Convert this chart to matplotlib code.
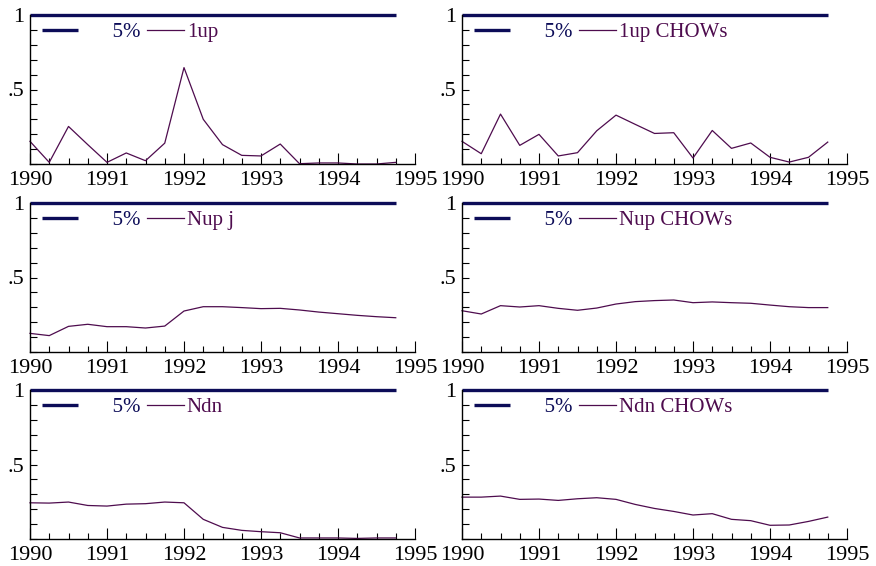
import matplotlib
matplotlib.use("Agg")
import matplotlib.pyplot as plt
import numpy as np
from matplotlib.ticker import MultipleLocator, FixedLocator

plt.rcParams["font.family"] = ["Liberation Serif", "DejaVu Serif"]

# quarterly dates 1990Q1 .. 1994Q4
dates = [1990 + q / 4 for q in range(20)]
crit_5pct = [1.0] * 20

up1 = [0.152, 0.011, 0.252, 0.130, 0.011, 0.074, 0.022, 0.140, 0.647, 0.300,
       0.130, 0.058, 0.054, 0.134, 0.002, 0.007, 0.007, 0.000, 0.000, 0.011]
up1_chow = [0.152, 0.069, 0.335, 0.125, 0.199, 0.054, 0.076, 0.223, 0.328, 0.266,
            0.205, 0.210, 0.040, 0.225, 0.105, 0.141, 0.045, 0.013, 0.045, 0.147]
nup = [0.125, 0.110, 0.172, 0.186, 0.170, 0.170, 0.161, 0.174, 0.275, 0.304,
       0.304, 0.298, 0.291, 0.293, 0.282, 0.268, 0.257, 0.246, 0.237, 0.230]
nup_chow = [0.277, 0.255, 0.311, 0.302, 0.311, 0.293, 0.280, 0.295, 0.322, 0.338,
            0.345, 0.349, 0.331, 0.336, 0.331, 0.327, 0.315, 0.304, 0.298, 0.298]
ndn = [0.243, 0.241, 0.248, 0.225, 0.221, 0.234, 0.237, 0.248, 0.243, 0.132,
       0.078, 0.058, 0.049, 0.042, 0.007, 0.007, 0.007, 0.004, 0.007, 0.007]
ndn_chow = [0.281, 0.281, 0.288, 0.266, 0.268, 0.259, 0.270, 0.277, 0.266, 0.232,
            0.205, 0.185, 0.161, 0.170, 0.132, 0.123, 0.092, 0.094, 0.118, 0.147]

panels = [("1up", up1), ("1up CHOWs", up1_chow),
          ("Nup j", nup), ("Nup CHOWs", nup_chow),
          ("Ndn", ndn), ("Ndn CHOWs", ndn_chow)]

navy = "#0c0c58"
purple = "#4e0c4e"

W, H = 876, 566
fig = plt.figure(figsize=(W / 100, H / 100), dpi=100)

col_left = [30, 462]
row_top = [15, 203, 390]
ax_w, ax_h = 385, 149

for i, (name, vals) in enumerate(panels):
    r, c = divmod(i, 2)
    x0 = col_left[c] / W
    y0 = 1 - (row_top[r] + ax_h) / H
    ax = fig.add_axes([x0, y0, ax_w / W, ax_h / H])
    l1, = ax.plot(dates, crit_5pct, color=navy, lw=2.4, clip_on=False,
                  solid_capstyle="butt")
    l2, = ax.plot(dates, vals, color=purple, lw=0.9, clip_on=False)
    ax.set_xlim(1990, 1995)
    ax.set_ylim(0, 1)
    for s in ["top", "right"]:
        ax.spines[s].set_visible(False)
    for s in ["left", "bottom"]:
        ax.spines[s].set_linewidth(1.0)
    ax.xaxis.set_major_locator(FixedLocator([1990, 1991, 1992, 1993, 1994, 1995]))
    ax.xaxis.set_minor_locator(MultipleLocator(0.25))
    ax.set_xticklabels(["1990", "1991", "1992", "1993", "1994", "1995"])
    ax.yaxis.set_major_locator(FixedLocator([0.5, 1.0]))
    ax.set_yticklabels([".5", "1"])
    ax.yaxis.set_minor_locator(MultipleLocator(0.1))
    ax.tick_params(axis="x", which="major", direction="in", length=8, width=0.8,
                   labelsize=16, pad=5)
    ax.tick_params(axis="x", which="minor", direction="in", length=4, width=0.8)
    ax.tick_params(axis="y", which="both", direction="in", length=5, width=0.8,
                   labelsize=16, pad=4)
    ax.legend([l1, l2], ["      5%", name], ncol=2, loc="upper left",
              bbox_to_anchor=(0.02, 0.975), frameon=False, fontsize=15,
              handlelength=1.75, handletextpad=0.15, columnspacing=0.3,
              labelcolor=[navy, purple], borderaxespad=0, borderpad=0.2)

fig.savefig("out.png", dpi=100)
